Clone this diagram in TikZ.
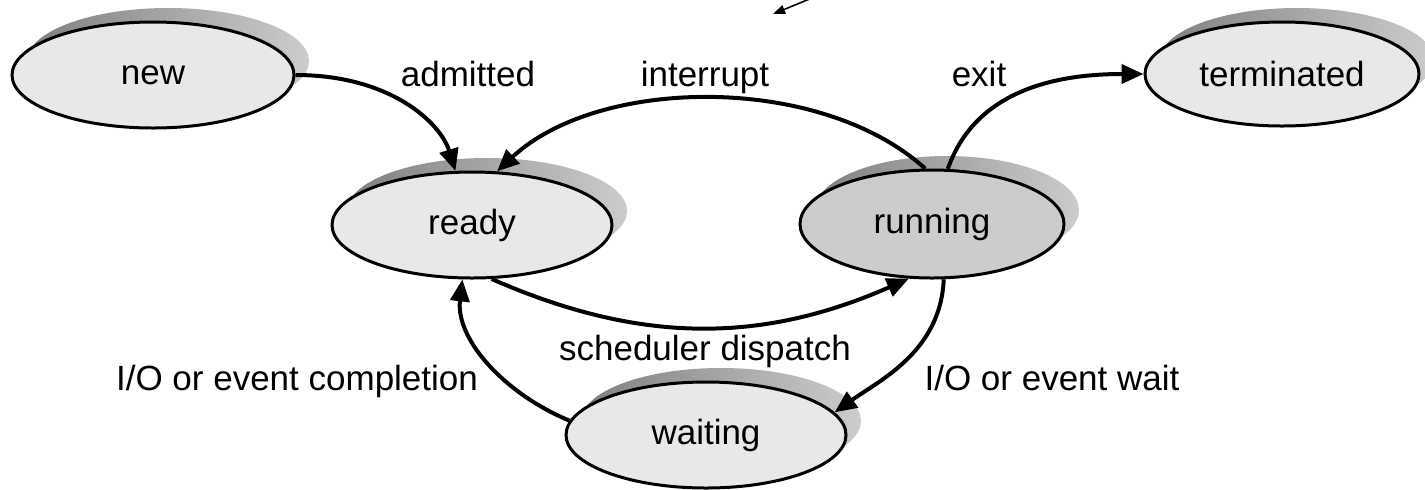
\documentclass[tikz,border=0pt]{standalone}
\usepackage{fontspec}
\setmainfont{Liberation Sans}
\usetikzlibrary{arrows.meta,shapes.geometric,shadows}
\begin{document}
\begin{tikzpicture}[x=0.5pt,y=-0.5pt,
  every node/.style={font=\fontsize{17.5pt}{21pt}\selectfont},
  state/.style={ellipse, draw=black, line width=1.5pt, fill=black!9, inner sep=0pt,
    general shadow={shadow xshift=7.5pt, shadow yshift=7pt, left color=black!50, right color=black!20}},
  conn/.style={line width=2pt, -{Triangle[length=11pt,width=9.5pt]}},
  lbl/.style={anchor=base, inner sep=0pt}]
\useasboundingbox (0,0) rectangle (1425,489);
\fill[white] (0,0) rectangle (1425,489);
% states
\node[state, minimum width=141pt, minimum height=53pt] (new) at (153,75) {new};
\node[state, minimum width=137pt, minimum height=52pt] (term) at (1282,74) {terminated};
\node[state, minimum width=140pt, minimum height=53pt] (ready) at (472,225) {ready};
\node[state, minimum width=132pt, minimum height=54pt, fill=black!20] (run) at (932,224) {running};
\node[state, minimum width=140pt, minimum height=53pt] (wait) at (706,435) {waiting};
% transitions
\draw[conn] (new.east) .. controls +(95,0) and +(-15,-48) .. (ready.107);
\draw[conn] (run.97) .. controls +(-105,-95) and +(102,-95) .. (ready.65);
\draw[conn] (run.74) .. controls +(28,-80) and +(-85,0) .. (term.west);
\draw[conn] (ready.-70) .. controls +(148,65) and +(-148,65) .. (run.-113);
\draw[conn] (run.-78.5) .. controls +(-3,72) and +(45,-32) .. (wait.10);
\draw[conn] (wait.174.6) .. controls +(-65,-27) and +(-7,60) .. (ready.-100);
% labels
\node[lbl] (ladm) at (468,86) {admitted};
\node[lbl] (lint) at (705,86) {interrupt};
\node[lbl] (lexit) at (979,86) {exit};
\node[lbl] (lsch) at (705,360) {scheduler dispatch};
\node[lbl] (lcomp) at (297,390) {I/O or event completion};
\node[lbl] (lwait) at (1052,390) {I/O or event wait};
% stray arrow at top
\coordinate (sa) at (812,-2);
\coordinate (sb) at (773,14);
\draw[line width=0.8pt, -{Triangle[length=6pt,width=4.5pt]}] (sa) -- (sb);
\end{tikzpicture}
\end{document}
